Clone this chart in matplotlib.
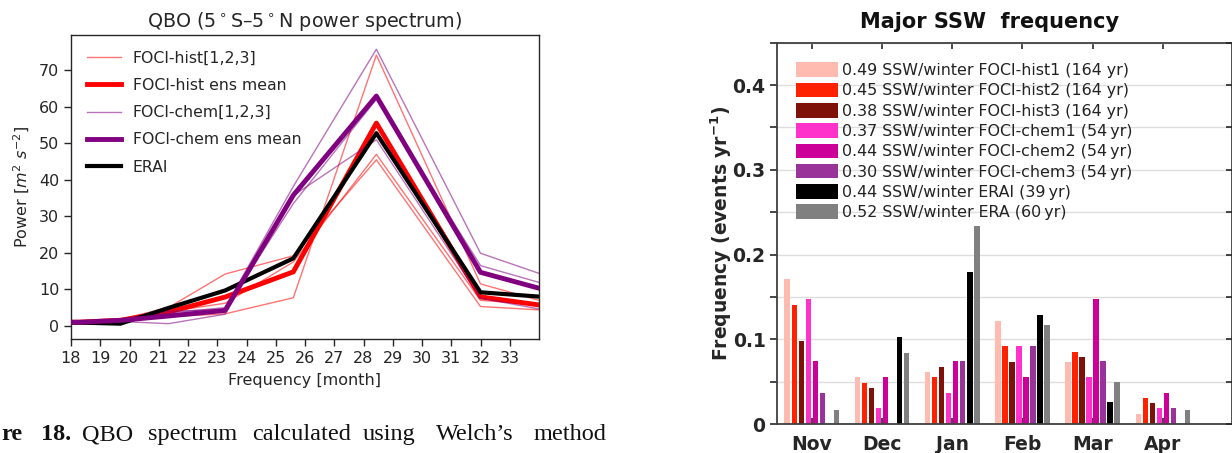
import numpy as np
import matplotlib
matplotlib.use("Agg")
import matplotlib.pyplot as plt
from matplotlib.ticker import MultipleLocator, FuncFormatter
from matplotlib.patches import Patch
from matplotlib.lines import Line2D

# ---------------- QBO power spectrum (Welch) ----------------
periods = [17.07, 18.29, 19.69, 21.33, 23.27, 25.60, 28.44, 32.00, 36.57]

hist1 = [1.0, 1.0, 1.3, 2.5, 3.3, 7.7, 74.2, 11.5, 1.2]
hist2 = [1.2, 1.2, 1.8, 5.0, 14.2, 19.2, 45.5, 5.3, 3.2]
hist3 = [0.8, 0.8, 1.5, 3.9, 6.2, 17.5, 47.0, 7.0, 4.3]

chem1 = [1.0, 1.0, 1.5, 3.5, 5.0, 38.2, 75.8, 19.9, 7.3]
chem2 = [1.2, 1.2, 1.8, 4.0, 4.5, 33.5, 62.1, 16.5, 6.0]
chem3 = [0.8, 0.8, 1.2, 0.6, 3.2, 35.7, 51.0, 7.6, 0.8]

erai = [1.0, 0.9, 0.6, 4.9, 9.7, 18.5, 52.8, 9.2, 6.5]

# ---------------- Major SSW frequency per month ----------------
months = ["Nov", "Dec", "Jan", "Feb", "Mar", "Apr"]
ssw_hist1 = [0.1707, 0.0549, 0.0610, 0.1220, 0.0732, 0.0122]
ssw_hist2 = [0.1402, 0.0488, 0.0549, 0.0915, 0.0854, 0.0305]
ssw_hist3 = [0.0976, 0.0427, 0.0671, 0.0732, 0.0793, 0.0244]
ssw_chem1 = [0.1481, 0.0185, 0.0370, 0.0926, 0.0556, 0.0185]
ssw_chem2 = [0.0741, 0.0556, 0.0741, 0.0556, 0.1481, 0.0370]
ssw_chem3 = [0.0370, 0.0000, 0.0741, 0.0926, 0.0741, 0.0185]
ssw_erai = [0.0000, 0.1026, 0.1795, 0.1282, 0.0256, 0.0000]
ssw_era = [0.0167, 0.0833, 0.2333, 0.1167, 0.0500, 0.0167]

ssw_labels = [
    "0.49 SSW/winter FOCI-hist1 (164 yr)",
    "0.45 SSW/winter FOCI-hist2 (164 yr)",
    "0.38 SSW/winter FOCI-hist3 (164 yr)",
    "0.37 SSW/winter FOCI-chem1 (54\u2009yr)",
    "0.44 SSW/winter FOCI-chem2 (54\u2009yr)",
    "0.30 SSW/winter FOCI-chem3 (54\u2009yr)",
    "0.44 SSW/winter ERAI (39\u2009yr)",
    "0.52 SSW/winter ERA (60\u2009yr)",
]
ssw_colors = ["#ffbbb0", "#ff2200", "#7f1208", "#ff33cc",
              "#cc0099", "#993399", "#000000", "#808080"]

W, H = 1232, 453
fig = plt.figure(figsize=(W / 100, H / 100), dpi=100)

# ---------------- left panel ----------------
ax = fig.add_axes([71 / W, (H - 339) / H, 468 / W, 304 / H])
dark = "#262626"

for m in [hist1, hist2, hist3]:
    ax.plot(periods, m, color="red", lw=1.0, alpha=0.55)
hist_mean = np.mean([hist1, hist2, hist3], axis=0)
ax.plot(periods, hist_mean, color="red", lw=3.5)
for m in [chem1, chem2, chem3]:
    ax.plot(periods, m, color="purple", lw=1.0, alpha=0.55)
chem_mean = np.mean([chem1, chem2, chem3], axis=0)
ax.plot(periods, chem_mean, color="purple", lw=3.5, zorder=3)
ax.plot(periods, erai, color="black", lw=3.0)

ax.set_xlim(18, 34)
ax.set_ylim(-3.6, 79.7)
ax.set_xticks(range(18, 34))
ax.set_yticks(range(0, 71, 10))
ax.tick_params(direction="out", length=5, width=1, colors=dark,
               labelsize=11.5, labelcolor=dark)
for s in ax.spines.values():
    s.set_color(dark)
    s.set_linewidth(1.0)
ax.set_title("QBO (5$^\\circ$S\u20135$^\\circ$N power spectrum)",
             fontsize=13.8, color=dark, pad=6)
ax.set_xlabel("Frequency [month]", fontsize=11.5, color=dark, labelpad=5)
ax.set_ylabel("Power [$m^2\\ s^{-2}$]", fontsize=11.5, color=dark, labelpad=5)

handles = [
    Line2D([], [], color="red", lw=1.0, alpha=0.55),
    Line2D([], [], color="red", lw=3.5),
    Line2D([], [], color="purple", lw=1.0, alpha=0.55),
    Line2D([], [], color="purple", lw=3.5),
    Line2D([], [], color="black", lw=3.0),
]
labels = ["FOCI-hist[1,2,3]", "FOCI-hist ens mean", "FOCI-chem[1,2,3]",
          "FOCI-chem ens mean", "ERAI"]
leg = ax.legend(handles, labels, loc="upper left", frameon=False,
                fontsize=11.3, handlelength=2.2, handletextpad=0.75,
                labelspacing=0.78, borderaxespad=0.6)
for t in leg.get_texts():
    t.set_color(dark)

# caption text below the left panel
cap_y = 1 - 440 / H
cap_words = [("re", 1, "bold"), ("18.", 41, "bold"), ("QBO", 82, "normal"),
             ("spectrum", 148, "normal"), ("calculated", 252, "normal"),
             ("using", 363, "normal"), ("Welch\u2019s", 436, "normal"),
             ("method", 534, "normal")]
for word, xp, wt in cap_words:
    fig.text(xp / W, cap_y, word, fontsize=17.5, family="Liberation Serif",
             fontweight=wt, color="#111111", ha="left", va="baseline")

# ---------------- right panel ----------------
ax2 = fig.add_axes([776.7 / W, (H - 424) / H, (W - 776.7) / W, 381.3 / H])
x = np.arange(1, len(months) + 1)
series = [ssw_hist1, ssw_hist2, ssw_hist3, ssw_chem1, ssw_chem2,
          ssw_chem3, ssw_erai, ssw_era]
pitch = 0.1
for k, (vals, col) in enumerate(zip(series, ssw_colors)):
    ax2.bar(x + (k - 3.5) * pitch, vals, width=0.078, color=col,
            edgecolor="none", zorder=2)

ax2.set_xlim(0.5, 6.985)
ax2.set_ylim(0, 0.45)
ax2.yaxis.set_major_locator(MultipleLocator(0.1))
ax2.yaxis.set_minor_locator(MultipleLocator(0.05))
ax2.yaxis.set_major_formatter(
    FuncFormatter(lambda v, _: "0" if abs(v) < 1e-9 else f"{v:.1f}"))
ax2.grid(True, axis="y", which="both", color="#dedede", lw=1.0, zorder=0)
ax2.set_axisbelow(True)
ax2.set_xticks(x)
ax2.set_xticklabels(months, fontweight="bold", fontsize=13.5)
ax2.tick_params(axis="x", direction="in", top=True, bottom=True, length=4,
                width=1.2, colors=dark, pad=8)
ax2.tick_params(axis="y", which="both", direction="out", length=5, width=1.2,
                colors=dark, labelsize=13.5, pad=3)
for lab in ax2.get_yticklabels():
    lab.set_fontweight("bold")
for s in ax2.spines.values():
    s.set_color("#404040")
    s.set_linewidth(1.3)

axr = ax2.twinx()
axr.set_ylim(0, 0.45)
axr.yaxis.set_major_locator(MultipleLocator(0.05))
axr.tick_params(axis="y", direction="in", length=4, width=1.2,
                colors=dark, labelright=False)
for s in axr.spines.values():
    s.set_visible(False)

ax2.set_ylabel("Frequency (events yr$^{\\mathbf{-1}}$)", fontweight="bold",
               fontsize=13.5, color=dark, labelpad=-1)
fig.text(990 / W, 1 - 22 / H, "Major SSW  frequency", fontsize=15,
         fontweight="bold", color="#111111", ha="center", va="center")

phandles = [Patch(facecolor=c, edgecolor="none") for c in ssw_colors]
leg2 = ax2.legend(phandles, ssw_labels, loc="upper left", frameon=False,
                  fontsize=11.4, handlelength=2.6, handleheight=1.05,
                  handletextpad=0.25, labelspacing=0.285,
                  borderaxespad=1.05, borderpad=0.2)
for t in leg2.get_texts():
    t.set_color("#222222")

fig.savefig("out.png", dpi=100)
